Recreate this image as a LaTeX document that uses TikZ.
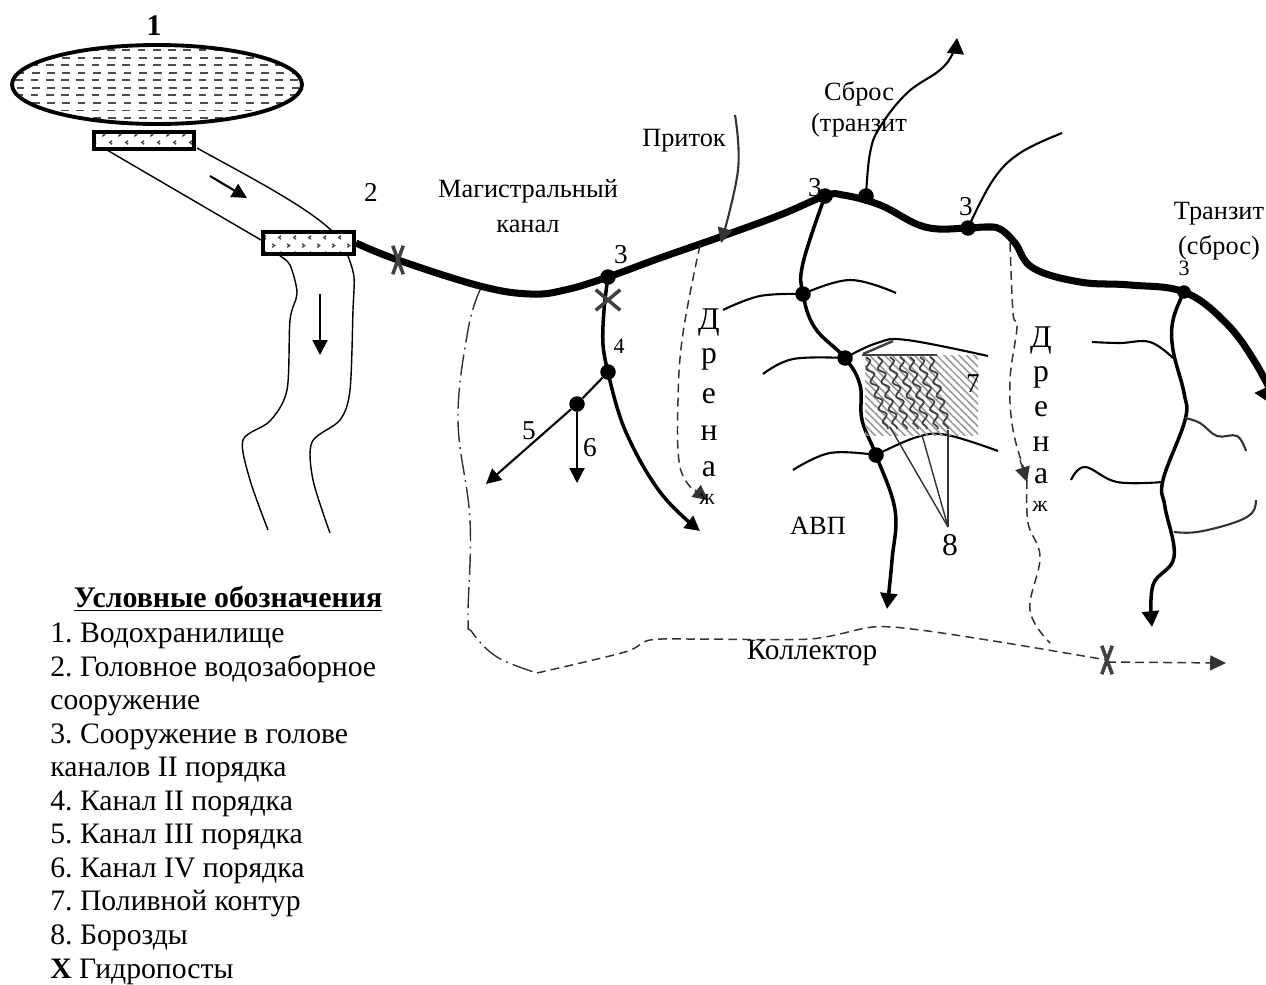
\documentclass[tikz,border=0pt]{standalone}
\usepackage{fontspec}
\setmainfont{Liberation Serif}
\usetikzlibrary{shapes.geometric, shapes.misc, arrows.meta, patterns, patterns.meta, decorations.pathmorphing}

\pgfdeclarepatternformonly{gatemarks}{\pgfpointorigin}{\pgfqpoint{8.8pt}{9pt}}{\pgfqpoint{8.8pt}{9pt}}{
  \pgfsetlinewidth{0.8pt}
  \pgfpathmoveto{\pgfqpoint{2.4pt}{1pt}}
  \pgfpathlineto{\pgfqpoint{1pt}{2pt}}
  \pgfpathlineto{\pgfqpoint{2.4pt}{3pt}}
  \pgfpathmoveto{\pgfqpoint{6pt}{5.5pt}}
  \pgfpathlineto{\pgfqpoint{7.4pt}{6.5pt}}
  \pgfpathlineto{\pgfqpoint{6pt}{7.5pt}}
  \pgfusepath{stroke}
}

\tikzset{
  tip/.style={-{Triangle[length=8.5pt, width=8.5pt]}},
  bigtip/.style={-{Triangle[length=9pt, width=9.5pt]}},
  txt/.style={font=\fontsize{15}{18}\selectfont, inner sep=0pt},
  small/.style={font=\fontsize{12.5}{14}\selectfont, inner sep=0pt},
  num/.style={font=\fontsize{15.5}{18}\selectfont, inner sep=0pt},
  letter/.style={font=\fontsize{18}{20}\selectfont, inner sep=0pt},
  canal1/.style={line width=4pt},
  canal2/.style={line width=2pt},
  canal3/.style={line width=1.2pt},
  bank/.style={line width=0.8pt},
  gate/.style={draw, line width=2.2pt, pattern=gatemarks, pattern color=black!70, inner sep=0pt},
  junction/.style={circle, fill=black, inner sep=0pt, minimum size=0.31cm},
  hydro/.style={cross out, draw=black!75, line width=2pt, inner sep=0pt, minimum width=0.14cm, minimum height=0.5cm},
  furrow/.style={black!75, line width=1pt, decorate, decoration={snake, amplitude=1.8pt, segment length=8pt}},
  drain/.style={black!80, line width=0.85pt, dash pattern=on 5pt off 3pt},
  wavy/.style={smooth, tension=0.65},
}

\begin{document}
\begin{tikzpicture}[x=0.02cm, y=-0.02cm]
\useasboundingbox (0, 0) rectangle (1266, 984);

\begin{scope}
  \clip (157, 84.5) ellipse [x radius=145, y radius=39.5];
  \foreach \r/\p in {50/0, 57.6/8, 65.2/0, 72.7/8, 80.3/0, 87.8/8, 95.4/0, 103/8, 110.5/0, 118/8}
    \draw [black!70, line width=1.1pt, dash pattern=on 4.4pt off 4.3pt, dash phase=\p pt] (0, \r) -- (320, \r);
\end{scope}
\node [ellipse, draw, line width=2.2pt, inner sep=0pt, minimum width=5.8cm, minimum height=1.58cm] (reservoir) at (157, 84.5) {};
\node [txt, font=\fontsize{17}{18}\bfseries] (n1) at (154, 26) {1};

\node [gate, minimum width=2cm, minimum height=0.35cm] (gate1) at (144, 140.5) {};
\node [gate, minimum width=1.82cm, minimum height=0.44cm] (gate2) at (308.5, 243) {};

\draw [bank] (107, 150) -- (261, 240);
\draw [bank] (197, 148) .. controls (240, 172) and (305, 205) .. (332, 231);
\draw [bank] plot [smooth] coordinates {(280, 256) (290, 265) (297, 293) (290, 320) (287, 390) (270, 421) (243, 440) (250, 480) (268, 530)};
\draw [bank] plot [smooth] coordinates {(348, 256) (354, 277) (353, 310) (350, 390) (340, 420) (312, 442) (313, 480) (330, 533)};
\draw [canal3, tip] (210, 176) -- (247, 198);
\draw [canal3, tip] (320, 294) -- (320, 355);

\node [num] (n3b) at (815, 188) {3};
\node [num] (n3c) at (966, 207) {3};

\coordinate (main0) at (gate2.east);
\node [junction] (j1) at (608, 277) {};
\node [junction] (j2) at (825, 196) {};
\node [junction] (j3) at (866, 196) {};
\node [junction] (j4) at (968, 228) {};
\node [junction, minimum size=0.27cm] (j5) at (1184, 292) {};
\node [junction] (j6) at (608, 372) {};
\node [junction] (j7) at (577, 404) {};
\node [junction] (j8) at (803, 294) {};
\node [junction] (j9) at (845, 358) {};
\node [junction] (j10) at (876, 455) {};

\draw [canal1, -{Triangle[length=15pt, width=17pt]}] plot [wavy] coordinates {(main0) (398, 260) (480, 286) (530, 294) (565, 290) (j1) (660, 258) (720, 237) (780, 215) (j2) (843, 195) (880, 205) (925, 227) (j4) (985, 227) (1000, 229) (1015, 243) (1033, 268) (1080, 282) (1130, 285) (j5) (1225, 322) (1255, 362) (1280, 410)};

\draw [canal2] plot [wavy] coordinates {(j1) (604, 310) (603, 345) (j6)};
\draw [canal2, tip] plot [wavy] coordinates {(j6) (625, 430) (660, 492) (700, 531)};
\draw [canal3, tip] (j6) -- (j7) -- (486, 484);
\draw [canal3, tip] (j7) -- (577, 483);

\draw [canal2, bigtip] plot [wavy] coordinates {(j2) (803, 263) (j8) (815, 328) (j9) (860, 385) (862, 420) (j10) (895, 510) (892, 560) (887, 609)};
\draw [canal2, bigtip] plot [wavy] coordinates {(j5) (1173, 320) (1173, 350) (1184, 393) (1185, 420) (1163, 480) (1165, 507) (1174, 557) (1153, 585) (1152, 627)};

\draw [canal3] plot [wavy] coordinates {(723, 310) (760, 296) (j8)};
\draw [canal3] plot [wavy] coordinates {(j8) (850, 280) (896, 293)};
\draw [canal3] plot [wavy] coordinates {(763, 374) (793, 359) (j9)};
\draw [canal3] plot [wavy] coordinates {(j9) (877, 343) (907, 340) (988, 356)};
\draw [canal3] plot [wavy] coordinates {(793, 470) (830, 453) (j10)};
\draw [canal3] plot [wavy] coordinates {(j10) (917, 437) (947, 435) (998, 451)};
\draw [canal3] plot [wavy] coordinates {(1092, 342) (1120, 343) (1150, 342) (1173, 358)};
\draw [canal3, black!80] plot [wavy] coordinates {(1185, 418) (1200, 423) (1217, 436) (1237, 436) (1246, 451)};
\draw [canal3] plot [wavy] coordinates {(1071, 480) (1085, 467) (1117, 482) (1163, 482)};
\draw [canal3, black!80] plot [wavy] coordinates {(1174, 532) (1197, 532) (1233, 523) (1252, 513) (1256, 500)};

\draw [canal3, bigtip] plot [wavy] coordinates {(j3) (870, 153) (880, 127) (907, 93) (940, 70) (953, 53) (957, 38)};
\draw [canal3] plot [wavy] coordinates {(j4) (993, 180) (1020, 153) (1062, 133)};
\draw [canal3, black!80, tip] plot [wavy] coordinates {(735, 115) (738, 170) (721, 243)};

\draw [drain] plot [wavy] coordinates {(700, 245) (683, 333) (678, 400) (680, 467) (697, 493)};
\draw [black!80, line width=0.8pt, tip] (695, 490) -- (708, 500);
\draw [drain] plot [wavy] coordinates {(1010, 243) (1013, 313) (1017, 327) (1010, 380) (1013, 430) (1026, 475)};
\draw [black!80, line width=0.8pt, tip] (1020, 460) -- (1027, 482);
\draw [drain] plot [wavy] coordinates {(1027, 480) (1028, 523) (1040, 557) (1030, 610) (1050, 643)};
\draw [bank, black!80, dash pattern=on 12pt off 3pt on 1pt off 3pt] plot [wavy] coordinates {(480, 290) (468, 330) (458, 420) (470, 520) (468, 617) (472, 632) (497, 657) (537, 673)};
\draw [drain] plot [smooth] coordinates {(537, 673) (625, 652) (650, 640) (700, 639) (810, 639) (873, 627) (920, 630) (1000, 642) (1107, 660)};
\draw [drain, -{Triangle[length=9pt, width=8.5pt]}] (1107, 662) -- (1226, 663);

\node [hydro] (x1) at (398, 260) {};
\node [hydro, minimum width=0.42cm, minimum height=0.34cm] (x2) at (608, 300) {};
\node [hydro] (x3) at (1107, 660) {};

\fill [pattern={Lines[angle=-45, distance=3pt, line width=0.9pt]}, pattern color=black!40] (865, 355) rectangle (978, 435);
\foreach \xa/\xb in {866/888, 878/897, 890/907, 900/918, 910/927, 920/938, 930/948}
  \draw [furrow] (\xa, 357) -- (\xb, 429);
\draw [black!75, line width=1.4pt] (862, 355) -- (937, 355);
\draw [black!75, line width=1.4pt] (863, 354) -- (893, 341);
\node [letter] (n8) at (950, 545) {8};
\draw [bank, black!80] (948, 527) -- (890, 427);
\draw [bank, black!80] (948, 527) -- (922, 435);
\draw [bank, black!80] (948, 527) -- (948, 430);

\node [num] (n2) at (371, 192) {2};
\node [txt, align=center] (lmain) at (528, 206) {Магистральный\\[1.5pt]канал};
\node [txt] (linflow) at (684, 141) {Приток};
\node [txt] (ldump) at (859, 94) {Сброс};
\node [txt] (ldump2) at (859, 125) {(транзит};
\node [txt] (ltransit) at (1219, 214) {Транзит};
\node [txt] (ltransit2) at (1219, 248) {(сброс)};
\node [num] (n3a) at (621, 255) {3};
\node [small] (n3d) at (1184, 268) {3};
\node [small] (n4) at (619, 346) {4};
\node [num] (n5) at (529, 431) {5};
\node [num] (n6) at (590, 448) {6};
\node [num] (n7) at (973, 384) {7};
\node [txt] (lavp) at (818, 526) {АВП};
\node [txt, font=\fontsize{16.7}{18}\selectfont] (lcoll) at (812, 653) {Коллектор};

\foreach \l/\y in {Д/323, р/359, е/396, н/433, а/469}
  \node [letter] (dl\y) at (709, \y) {\l};
\node [small] (dlz) at (707, 499) {ж};
\foreach \l/\y in {Д/341, р/377, е/409, н/444, а/476}
  \node [letter] (dr\y) at (1041, \y) {\l};
\node [small] (drz) at (1040, 506) {ж};

\node [txt, font=\fontsize{17}{18}\bfseries] (ltitle) at (228, 599) {\underline{Условные обозначения}};
\node [txt, anchor=north west, align=left, font=\frenchspacing\fontsize{16.9}{19.1}\selectfont] (legend) at (50, 622.5) {1. Водохранилище\\
2. Головное водозаборное\\
сооружение\\
3. Сооружение в голове\\
каналов II порядка\\
4. Канал II порядка\\
5. Канал III порядка\\
6. Канал IV порядка\\
7. Поливной контур\\
8. Борозды\\
\textbf{Х} Гидропосты};

\end{tikzpicture}
\end{document}
